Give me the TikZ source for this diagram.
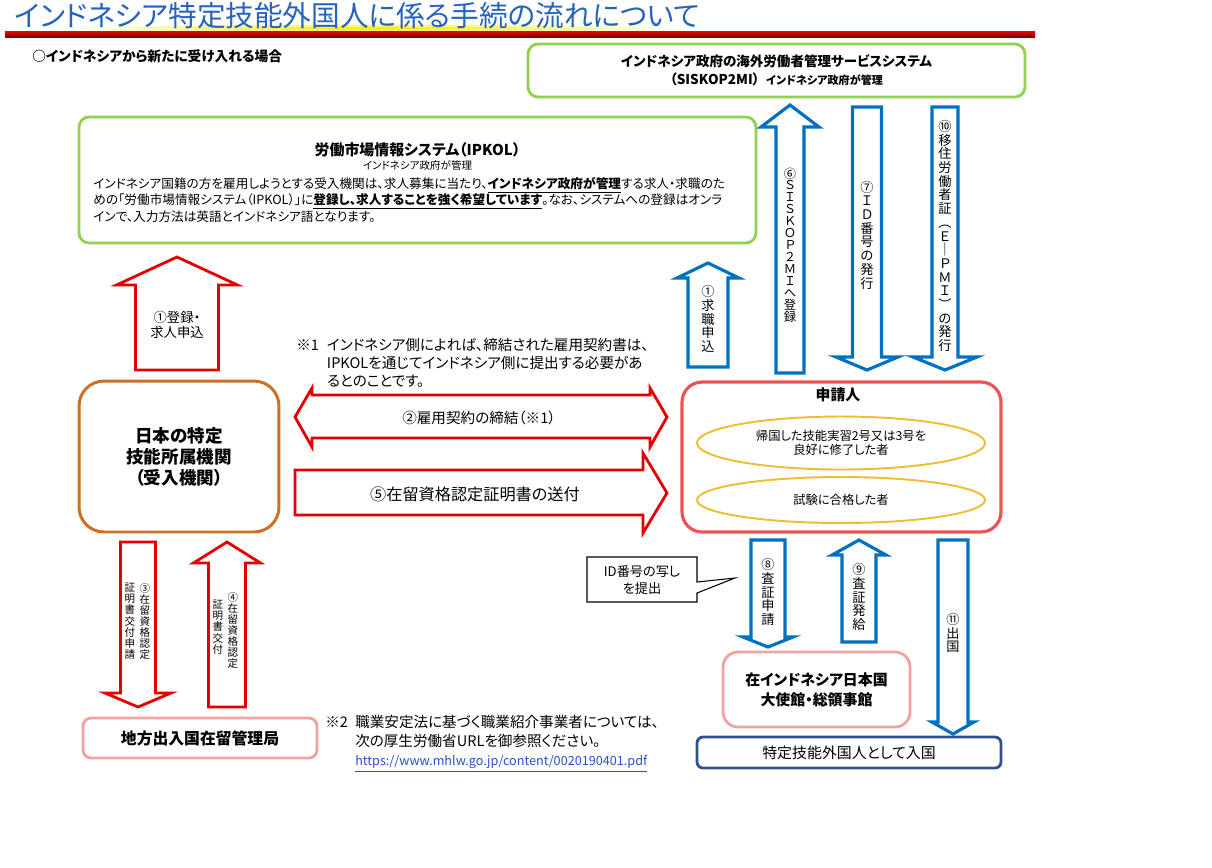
\documentclass[tikz,border=0pt]{standalone}
\usepackage{fontspec}
\setmainfont{Noto Sans CJK JP}[RawFeature=+palt]
\usetikzlibrary{shapes.geometric}

\definecolor{titleblue}{RGB}{38,98,190}
\definecolor{boxgreen}{RGB}{146,208,80}
\definecolor{boxorange}{RGB}{204,112,36}
\definecolor{boxred}{RGB}{236,84,84}
\definecolor{boxpink}{RGB}{242,160,160}
\definecolor{boxnavy}{RGB}{47,82,143}
\definecolor{ellyellow}{RGB}{238,190,50}
\definecolor{arrred}{RGB}{228,0,0}
\definecolor{arrblue}{RGB}{0,112,192}
\definecolor{linkblue}{RGB}{40,80,200}

% block arrows: [style]{centre x}{start y}{tip y}{half shaft}{half head}{head length}
\newcommand\blkup[7][]{%
  \draw[#1] ({#2-#5},#3) -- ({#2-#5},{#4+#7}) -- ({#2-#6},{#4+#7}) -- (#2,#4)
    -- ({#2+#6},{#4+#7}) -- ({#2+#5},{#4+#7}) -- ({#2+#5},#3) -- cycle;}
\newcommand\blkdown[7][]{%
  \draw[#1] ({#2-#5},#3) -- ({#2-#5},{#4-#7}) -- ({#2-#6},{#4-#7}) -- (#2,#4)
    -- ({#2+#6},{#4-#7}) -- ({#2+#5},{#4-#7}) -- ({#2+#5},#3) -- cycle;}

\begin{document}
\begin{tikzpicture}[x=0.02cm,y=-0.02cm,
    every node/.style={inner sep=0pt},
    gbox/.style={draw=boxgreen,line width=1.6pt,rounded corners=0.2cm},
    pbox/.style={draw=boxpink,line width=1.6pt},
    rarrow/.style={draw=arrred,line width=1.6pt,fill=white},
    barrow/.style={draw=arrblue,line width=1.8pt,fill=white},
    tate/.style={align=center,font=\fontsize{7.5}{7.8}\selectfont},
    tatesmall/.style={align=center,anchor=north,font=\fontsize{6}{6.3}\selectfont},
    notetext/.style={anchor=north west,font=\fontsize{8.3}{10.2}\selectfont}]
  \useasboundingbox (0,0) rectangle (1212,867);

  % title and red rule
  \shade[inner color=yellow!80!orange, outer color=white] (375,28) ellipse (6.4cm and 0.1cm);
  \node[anchor=west,text=titleblue,font=\fontsize{16.3}{18}\selectfont] (title) at (14,16)
    {インドネシア特定技能外国人に係る手続の流れについて};
  \shade[top color=red!95!black, bottom color=red!50!black] (5,31) rectangle (1035,37);
  \node[anchor=west,font=\bfseries\fontsize{7.8}{9}\selectfont] (case) at (32,56)
    {○インドネシアから新たに受け入れる場合};

  % systems of the Indonesian government
  \node[gbox,minimum width=9.94cm,minimum height=1.06cm,align=center,
    font=\bfseries\fontsize{7.7}{10.2}\selectfont] (siskop) at (776.5,70.5)
    {インドネシア政府の海外労働者管理サービスシステム\\（SISKOP2MI）\hspace{0.5em}{\fontsize{6.3}{7}\selectfont インドネシア政府が管理}};
  \node[gbox,minimum width=13.54cm,minimum height=2.52cm] (ipkol) at (417.5,180) {};
  \node[font=\bfseries\fontsize{8.5}{10}\selectfont] (ipkolttl) at (417.5,150) {労働市場情報システム（IPKOL）};
  \node[font=\fontsize{6}{7}\selectfont] (ipkolsub) at (417.5,165) {インドネシア政府が管理};
  \node[anchor=north west,align=left,font=\fontsize{7.2}{9.4}\selectfont] (ipkoltxt) at (93,177)
    {インドネシア国籍の方を雇用しようとする受入機関は、求人募集に当たり、\underline{\textbf{インドネシア政府が管理}}する求人・求職のた\\
     めの「労働市場情報システム（IPKOL）」に\underline{\textbf{登録し、求人することを強く希望しています}}。なお、システムへの登録はオンラ\\
     インで、入力方法は英語とインドネシア語となります。};

  % receiving organisation and applicant
  \node[draw=boxorange,line width=1.7pt,rounded corners=0.5cm,minimum width=4cm,minimum height=3.02cm,
    align=center,font=\bfseries\fontsize{10}{12}\selectfont] (org) at (179,456.5)
    {日本の特定\\技能所属機関\\（受入機関）};
  \node[draw=boxred,line width=1.8pt,rounded corners=0.4cm,minimum width=6.38cm,minimum height=3cm] (appl) at (841.5,457) {};
  \node[font=\bfseries\fontsize{8.5}{10}\selectfont] (applttl) at (838,395) {申請人};
  \node[draw=ellyellow,line width=1.1pt,ellipse,minimum width=5.76cm,minimum height=1.06cm,align=center,
    font=\fontsize{7}{8}\selectfont] (ex1) at (841,443) {帰国した技能実習2号又は3号を\\良好に修了した者};
  \node[draw=ellyellow,line width=1.1pt,ellipse,minimum width=5.76cm,minimum height=0.92cm,
    font=\fontsize{7}{8}\selectfont] (ex2) at (841,500) {試験に合格した者};

  % offices
  \node[pbox,rounded corners=0.16cm,minimum width=4.68cm,minimum height=0.8cm,
    font=\bfseries\fontsize{9}{10}\selectfont] (immig) at (200,738) {地方出入国在留管理局};
  \node[pbox,rounded corners=0.3cm,minimum width=3.74cm,minimum height=1.5cm,align=center,
    font=\bfseries\fontsize{8.5}{11.4}\selectfont] (embassy) at (816.5,689.5) {在インドネシア日本国\\大使館・総領事館};
  \node[draw=boxnavy,line width=1.6pt,rounded corners=0.12cm,minimum width=6.08cm,minimum height=0.62cm,
    font=\fontsize{8.5}{10}\selectfont] (entry) at (849,752.5) {特定技能外国人として入国};

  % red arrows
  \blkup[rarrow]{177}{370}{257}{41.5}{60.5}{28}
  \node[align=center,font=\fontsize{7.6}{8.6}\selectfont] (l1a) at (177,325) {①登録・\\求人申込};
  \draw[rarrow] (295,417) -- (312,388) -- (312,395) -- (650,395) -- (650,388) -- (667,417)
    -- (650,447) -- (650,438) -- (312,438) -- (312,447) -- cycle;
  \node[font=\fontsize{8.3}{9}\selectfont] (l2) at (479,418) {②雇用契約の締結（※1）};
  \draw[rarrow] (295,470) -- (643,470) -- (643,453) -- (667,493) -- (643,533) -- (643,515) -- (295,515) -- cycle;
  \node[font=\fontsize{9.2}{10}\selectfont] (l5) at (475,494) {⑤在留資格認定証明書の送付};
  \blkdown[rarrow]{138}{542}{707}{17.5}{33}{14}
  \node[tatesmall] (l3a) at (145,583) {③\\在\\留\\資\\格\\認\\定};
  \node[tatesmall] (l3b) at (130,583) {証\\明\\書\\交\\付\\申\\請};
  \blkup[rarrow]{227}{707}{542}{18.5}{33.5}{21}
  \node[tatesmall] (l4a) at (233,592) {④\\在\\留\\資\\格\\認\\定};
  \node[tatesmall] (l4b) at (218,600) {証\\明\\書\\交\\付};

  % blue arrows
  \blkup[barrow]{708}{367}{263}{20}{31}{15}
  \node[tate] (l1b) at (708,319) {①\\求\\職\\申\\込};
  \blkup[barrow]{790}{373}{105}{14}{29}{22}
  \node[tate,font=\fontsize{7}{6.8}\selectfont] (l6) at (790,245) {⑥\\Ｓ\\Ｉ\\Ｓ\\Ｋ\\Ｏ\\Ｐ\\２\\Ｍ\\Ｉ\\へ\\登\\録};
  \blkdown[barrow]{867}{107}{370}{14.5}{31}{13}
  \node[tate] (l7) at (867,235) {⑦\\Ｉ\\Ｄ\\番\\号\\の\\発\\行};
  \blkdown[barrow]{945}{107}{370}{13}{32}{13}
  \node[tate] (l10) at (945,236) {⑩\\移\\住\\労\\働\\者\\証\\︵\\Ｅ\\｜\\Ｐ\\Ｍ\\Ｉ\\︶\\の\\発\\行};
  \blkdown[barrow]{768}{540}{647}{17}{25}{10}
  \node[tate] (l8) at (768,592) {⑧\\査\\証\\申\\請};
  \blkup[barrow]{859}{642}{540}{17}{27}{15}
  \node[tate] (l9) at (859,597) {⑨\\査\\証\\発\\給};
  \blkdown[barrow]{953}{540}{734}{15}{21}{12}
  \node[tate] (l11) at (953,633) {⑪\\出\\国};

  % callout
  \node[align=center,font=\fontsize{7.5}{9.6}\selectfont] (idnote) at (642,580) {ID番号の写し\\を提出};
  \coordinate (idtip) at (735,578);
  \draw[line width=0.6pt] (697,582) -- (idtip) -- (697,593) -- (697,602) -- (587,602) -- (587,557) -- (697,557) -- cycle;

  % notes
  \node[notetext] (note1) at (296,338)
    {\begin{tabular}{@{}p{2.1em}@{}l@{}}
      ※1 & インドネシア側によれば、締結された雇用契約書は、\\
         & IPKOLを通じてインドネシア側に提出する必要があ\\
         & るとのことです。
    \end{tabular}};
  \node[notetext,font=\fontsize{8.3}{10.8}\selectfont] (note2) at (325,714)
    {\begin{tabular}{@{}p{2.05em}@{}l@{}}
      ※2 & 職業安定法に基づく職業紹介事業者については、\\
         & 次の厚生労働省URLを御参照ください。\\
         & {\fontsize{7.2}{10.8}\selectfont\color{linkblue}\underline{https://www.mhlw.go.jp/content/0020190401.pdf}}
    \end{tabular}};
\end{tikzpicture}
\end{document}
